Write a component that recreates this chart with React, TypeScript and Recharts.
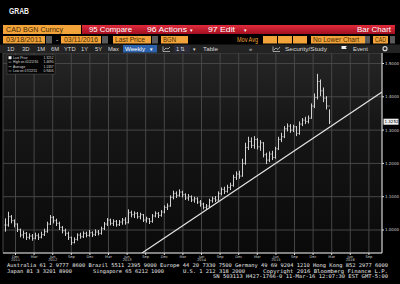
import { Bar, CartesianGrid, ComposedChart, ReferenceDot, ReferenceLine, XAxis, YAxis } from "recharts";

// roughly two-week bars (Sep 2011 .. Mar 2016)
const HIGH = [
  1.035, 1.055, 1.045, 1.032, 1.02, 1.004, 0.998, 0.994, 0.99, 0.988,
  0.992, 0.99, 0.995, 1.004, 1.025, 1.045, 1.042, 1.034, 1.025, 1.012,
  1.004, 0.995, 0.98, 0.978, 0.99, 0.992, 0.996, 0.995, 1.0, 0.996,
  1.002, 1.0, 1.01, 1.024, 1.036, 1.034, 1.032, 1.03, 1.03, 1.036,
  1.038, 1.062, 1.058, 1.056, 1.054, 1.052, 1.048, 1.04, 1.036, 1.048,
  1.056, 1.054, 1.06, 1.074, 1.08, 1.104, 1.118, 1.116, 1.122, 1.118,
  1.11, 1.108, 1.104, 1.1, 1.098, 1.09, 1.082, 1.078, 1.094, 1.1,
  1.102, 1.116, 1.128, 1.13, 1.136, 1.142, 1.166, 1.176, 1.178, 1.214,
  1.262, 1.28, 1.278, 1.282, 1.276, 1.27, 1.264, 1.232, 1.236, 1.238,
  1.25, 1.28, 1.292, 1.312, 1.32, 1.318, 1.316, 1.312, 1.326, 1.336,
  1.34, 1.344, 1.38, 1.41, 1.469, 1.452, 1.428, 1.402, 1.362,
];
const LOW = [
  0.995, 1.01, 1.02, 1.008, 0.994, 0.978, 0.975, 0.97, 0.972, 0.968,
  0.972, 0.97, 0.975, 0.982, 0.992, 1.015, 1.02, 1.012, 1.0, 0.99,
  0.982, 0.97, 0.955, 0.96, 0.968, 0.974, 0.976, 0.978, 0.98, 0.979,
  0.982, 0.984, 0.986, 1.0, 1.012, 1.014, 1.012, 1.01, 1.012, 1.016,
  1.016, 1.02, 1.038, 1.036, 1.034, 1.032, 1.024, 1.022, 1.018, 1.022,
  1.038, 1.036, 1.04, 1.05, 1.06, 1.07, 1.092, 1.096, 1.1, 1.098,
  1.09, 1.088, 1.084, 1.082, 1.078, 1.07, 1.062, 1.062, 1.068, 1.082,
  1.084, 1.088, 1.104, 1.108, 1.112, 1.12, 1.13, 1.15, 1.154, 1.16,
  1.196, 1.24, 1.246, 1.244, 1.242, 1.238, 1.218, 1.198, 1.204, 1.21,
  1.214, 1.24, 1.264, 1.276, 1.296, 1.292, 1.294, 1.282, 1.286, 1.312,
  1.318, 1.32, 1.334, 1.366, 1.392, 1.402, 1.384, 1.362, 1.318,
];
const CLOSE = [
  1.015, 1.04, 1.028, 1.018, 1.002, 0.985, 0.99, 0.978, 0.982, 0.975,
  0.983, 0.978, 0.986, 0.995, 1.018, 1.038, 1.028, 1.02, 1.008, 0.998,
  0.99, 0.978, 0.962, 0.972, 0.985, 0.98, 0.99, 0.984, 0.992, 0.986,
  0.994, 0.99, 1.004, 1.018, 1.03, 1.02, 1.026, 1.016, 1.024, 1.03,
  1.022, 1.052, 1.046, 1.05, 1.04, 1.046, 1.03, 1.034, 1.026, 1.042,
  1.05, 1.044, 1.054, 1.068, 1.072, 1.098, 1.11, 1.104, 1.114, 1.106,
  1.096, 1.1, 1.09, 1.094, 1.084, 1.078, 1.068, 1.072, 1.088, 1.094,
  1.09, 1.11, 1.122, 1.116, 1.128, 1.134, 1.158, 1.168, 1.162, 1.2,
  1.248, 1.266, 1.254, 1.272, 1.25, 1.262, 1.226, 1.21, 1.228, 1.218,
  1.244, 1.272, 1.28, 1.304, 1.312, 1.3, 1.31, 1.29, 1.318, 1.33,
  1.326, 1.336, 1.372, 1.398, 1.446, 1.418, 1.396, 1.372, 1.325,
];

const X_DOMAIN: [number, number] = [-0.67, 125.67];
const Y_DOMAIN: [number, number] = [0.931, 1.5315];
const Y_TICKS = [1.0, 1.1, 1.2, 1.3, 1.4, 1.5];
const X_TICKS = [
  3.5, 9.7, 15.9, 22.1, 28.3, 34.5, 40.7, 46.9, 53.1, 59.3,
  65.5, 71.7, 77.9, 84.1, 90.3, 96.5, 102.7, 108.9, 115.1, 121.3,
];
const MONTHS = [
  "Dec", "Mar", "Jun", "Sep", "Dec", "Mar", "Jun", "Sep", "Dec", "Mar",
  "Jun", "Sep", "Dec", "Mar", "Jun", "Sep", "Dec", "Mar", "Jun", "Sep",
];
const YEARS = [
  "2011", "", "2012", "", "", "", "2013", "", "", "",
  "2014", "", "", "", "2015", "", "", "", "2016", "",
];
const TREND_T = [45.67, 125.67];
const TREND_V = [0.931, 1.4144];
const LAST_PRICE = 1.3252;
const LEGEND_LABELS = ["Last Price", "High on 01/22/16", "Average", "Low on 07/22/11"];
const LEGEND_VALUES = ["1.3252", "1.4690", "1.1337", "0.9406"];

const DATA = CLOSE.map((c, i) => ({
  t: i,
  open: i > 0 ? CLOSE[i - 1] : c,
  high: HIGH[i],
  low: LOW[i],
  close: c,
}));

const BAR_COLOR = "#d2d2d2";
const TINY = "'DejaVu Sans', sans-serif";
const MONO = "'DejaVu Sans Mono', monospace";
const UI = "'Liberation Sans', Arial, sans-serif";
const ORANGE = "#f2a33a";
const ORANGE_TEXT = "#4a2c05";

function OhlcBar(props: any) {
  const { x, y, width, height, payload } = props;
  if (x == null || y == null || !payload) return null;
  const top = Math.min(y, y + height);
  const h = Math.abs(height);
  const range = payload.high - payload.low || 1;
  const at = (v: number) => top + ((payload.high - v) / range) * h;
  const cx = Math.round(x + width / 2) + 0.5;
  return (
    <g stroke={BAR_COLOR} strokeWidth={1}>
      <line x1={cx} x2={cx} y1={top} y2={top + h} />
      <line x1={cx - 1} x2={cx} y1={at(payload.open)} y2={at(payload.open)} />
      <line x1={cx} x2={cx + 1} y1={at(payload.close)} y2={at(payload.close)} />
    </g>
  );
}

function MonthTick(props: any) {
  const { x, y, payload, index } = props;
  const i = payload?.index ?? index;
  return (
    <g fontFamily={TINY} fontSize={3.6} fill="#d0d0d0">
      <text x={x} y={y + 1.5} textAnchor="middle">{MONTHS[i]}</text>
      {YEARS[i] ? (
        <text x={x} y={y + 5.2} textAnchor="middle">{YEARS[i]}</text>
      ) : null}
    </g>
  );
}

function PriceTag(props: any) {
  const { cx, cy } = props;
  if (cx == null || cy == null) return null;
  return (
    <g>
      <rect x={cx + 1.5} y={cy - 3} width={15} height={6} fill="#f0f0f0" />
      <text x={cx + 2.5} y={cy + 1.5} fontFamily={TINY} fontSize={4} fill="#000">
        {LEGEND_VALUES[0]}
      </text>
    </g>
  );
}

function PriceChart() {
  return (
    <ComposedChart
      width={400}
      height={212}
      data={DATA}
      margin={{ top: 0, right: 0, bottom: 0, left: 3 }}
    >
      <defs>
        <linearGradient id="plotBg" x1="0" y1="0" x2="0" y2="1">
          <stop offset="0%" stopColor="#262626" />
          <stop offset="35%" stopColor="#161616" />
          <stop offset="100%" stopColor="#0a0a0a" />
        </linearGradient>
      </defs>
      <CartesianGrid stroke="#474747" fill="url(#plotBg)" fillOpacity={1} />
      <XAxis
        dataKey="t"
        type="number"
        domain={X_DOMAIN}
        allowDataOverflow
        ticks={X_TICKS}
        interval={0}
        height={12}
        tickSize={2}
        tickMargin={1}
        stroke="#dcdcdc"
        tick={<MonthTick />}
      />
      <YAxis
        orientation="right"
        domain={Y_DOMAIN}
        allowDataOverflow
        ticks={Y_TICKS}
        width={18}
        tickSize={2}
        tickMargin={1}
        stroke="#dcdcdc"
        tick={{ fontSize: 4, fill: "#d0d0d0", fontFamily: TINY, textAnchor: "start" }}
        tickFormatter={(v: number) => v.toFixed(4)}
      />
      <Bar
        dataKey={(d: any) => [d.low, d.high]}
        shape={<OhlcBar />}
        isAnimationActive={false}
      />
      <ReferenceLine
        segment={[
          { x: TREND_T[0], y: TREND_V[0] },
          { x: TREND_T[1], y: TREND_V[1] },
        ]}
        stroke="#e4e4e4"
        strokeWidth={1.2}
        ifOverflow="hidden"
      />
      <ReferenceDot
        x={X_DOMAIN[1]}
        y={LAST_PRICE}
        ifOverflow="visible"
        shape={(p: any) => <PriceTag {...p} />}
      />
    </ComposedChart>
  );
}

function Header() {
  return (
    <g fontFamily={UI}>
      <defs>
        <linearGradient id="redBar" x1="0" y1="0" x2="0" y2="1">
          <stop offset="0%" stopColor="#e02a3c" />
          <stop offset="100%" stopColor="#a30f20" />
        </linearGradient>
      </defs>
      <text x={9} y={14} fontSize={9.5} fontWeight="bold" fill="#f0f0f0" textLength={20} lengthAdjust="spacingAndGlyphs">GRAB</text>

      {/* row 1 */}
      <rect x={3} y={25} width={78} height={9} fill={ORANGE} />
      <text x={6} y={32.3} fontSize={7.5} fill={ORANGE_TEXT} textLength={57} lengthAdjust="spacingAndGlyphs">CAD BGN Curncy</text>
      <rect x={82} y={25} width={313} height={9} fill="url(#redBar)" />
      <g fill="#ffffff" fontSize={7.5}>
        <text x={89} y={32.3} textLength={43} lengthAdjust="spacingAndGlyphs">95 Compare</text>
        <text x={147} y={32.3} textLength={40} lengthAdjust="spacingAndGlyphs">96 Actions</text>
        <text x={190} y={32.3} fontSize={5}>▾</text>
        <text x={208} y={32.3} textLength={27} lengthAdjust="spacingAndGlyphs">97 Edit</text>
        <text x={244} y={32.3} fontSize={5}>▾</text>
        <text x={357} y={32.3} textLength={34} lengthAdjust="spacingAndGlyphs">Bar Chart</text>
      </g>

      {/* row 2 */}
      <g fontSize={6.5} fill={ORANGE_TEXT}>
        <rect x={3} y={36} width={42} height={7.5} fill={ORANGE} />
        <text x={6} y={42} textLength={36} lengthAdjust="spacingAndGlyphs">03/18/2011</text>
        <rect x={46} y={36} width={6} height={7.5} fill="#5a5a5a" />
        <text x={56} y={42} fill="#dddddd">-</text>
        <rect x={61} y={36} width={40} height={7.5} fill={ORANGE} />
        <text x={64} y={42} textLength={34} lengthAdjust="spacingAndGlyphs">03/11/2016</text>
        <rect x={102} y={36} width={6} height={7.5} fill="#5a5a5a" />
        <rect x={113} y={36} width={38} height={7.5} fill={ORANGE} />
        <text x={115} y={42} textLength={30} lengthAdjust="spacingAndGlyphs">Last Price</text>
        <rect x={152} y={36} width={6} height={7.5} fill="#5a5a5a" />
        <rect x={161} y={36} width={27} height={7.5} fill={ORANGE} />
        <text x={163} y={42} textLength={13} lengthAdjust="spacingAndGlyphs">BGN</text>
        <text x={237} y={42} fill={ORANGE} textLength={21} lengthAdjust="spacingAndGlyphs">Mov Avg</text>
        <rect x={263} y={36} width={14} height={7.5} fill={ORANGE} />
        <rect x={278} y={36} width={14} height={7.5} fill={ORANGE} />
        <rect x={293} y={36} width={14} height={7.5} fill={ORANGE} />
        <rect x={311} y={36} width={54} height={7.5} fill={ORANGE} />
        <text x={313} y={42} textLength={46} lengthAdjust="spacingAndGlyphs">No Lower Chart</text>
        <rect x={365} y={36} width={5} height={7.5} fill="#5a5a5a" />
        <rect x={373} y={36} width={15} height={7.5} fill={ORANGE} />
        <text x={375} y={42} textLength={11} lengthAdjust="spacingAndGlyphs">CAD</text>
        <rect x={390} y={36} width={5} height={7.5} fill="#5a5a5a" />
      </g>

      {/* row 3 */}
      <rect x={0} y={44.5} width={400} height={8.5} fill="#232323" />
      <g fontSize={5.8} fill="#d8d8d8">
        <text x={7} y={51}>1D</text>
        <text x={22} y={51}>3D</text>
        <text x={37} y={51}>1M</text>
        <text x={51} y={51}>6M</text>
        <text x={64} y={51}>YTD</text>
        <text x={81} y={51}>1Y</text>
        <text x={95} y={51}>5Y</text>
        <text x={108} y={51}>Max</text>
        <rect x={123} y={45} width={34} height={7.5} fill="#2d62ad" />
        <text x={125} y={51} fill="#ffffff" textLength={20} lengthAdjust="spacingAndGlyphs">Weekly</text>
        <text x={149} y={51} fill="#ffffff" fontSize={4.5}>▼</text>
        <path d="M163 51.5 L163 46.5 M163 51.5 L170 51.5 M164 50 L166 48 L168 49 L170 47" stroke="#d8d8d8" strokeWidth={0.7} fill="none" />
        <rect x={174} y={45} width={16} height={7.5} fill="#2b2b3a" />
        <text x={176} y={51}>1</text>
        <text x={180} y={51}>⇅</text>
        <text x={192} y={51} fontSize={4.5}>▼</text>
        <text x={203} y={51} textLength={15} lengthAdjust="spacingAndGlyphs">Table</text>
        <text x={249} y={51}>«</text>
        <path d="M273 51.5 L273 46.5 M273 51.5 L280 51.5 M274 50 L276 48 L278 49.5 L280 47" stroke="#d8d8d8" strokeWidth={0.7} fill="none" />
        <text x={285} y={51} textLength={42} lengthAdjust="spacingAndGlyphs">Security/Study</text>
        <path d="M341.5 52 L341.5 46 L347 46 L345.5 47.5 L347 49 L341.5 49" fill="#eeeeee" />
        <text x={353} y={51} textLength={15} lengthAdjust="spacingAndGlyphs">Event</text>
        <circle cx={385} cy={48.7} r={2} fill="none" stroke="#d8d8d8" strokeWidth={1.2} />
      </g>
    </g>
  );
}

function Legend() {
  return (
    <g fontFamily={UI} fontSize={3.3} fill="#dcdcdc">
      <rect x={7} y={55} width={48} height={19} fill="#050505" stroke="#555555" strokeWidth={0.5} />
      {LEGEND_LABELS.map((label, i) => {
        const y = 59 + i * 4.4;
        return (
          <g key={label}>
            {i === 0 ? (
              <rect x={8.5} y={y - 2.8} width={3} height={3} fill="#f4f4f4" />
            ) : (
              <line x1={8.5} x2={11.5} y1={y - 1.2} y2={y - 1.2} stroke="#bbbbbb" strokeWidth={0.6} />
            )}
            <text x={13} y={y}>{label}</text>
            <text x={53.5} y={y} textAnchor="end">{LEGEND_VALUES[i]}</text>
          </g>
        );
      })}
    </g>
  );
}

function Footer() {
  return (
    <g fontFamily={MONO} fontSize={5.2} fill="#e8e8e8">
      <text x={7} y={266.8} textLength={381} lengthAdjust="spacingAndGlyphs">
        Australia 61 2 9777 8600 Brazil 5511 2395 9000 Europe 44 20 7330 7500 Germany 49 69 9204 1210 Hong Kong 852 2977 6000
      </text>
      <text x={7} y={272.6} textLength={65} lengthAdjust="spacingAndGlyphs">Japan 81 3 3201 8900</text>
      <text x={93} y={272.6} textLength={71} lengthAdjust="spacingAndGlyphs">Singapore 65 6212 1000</text>
      <text x={183} y={272.6} textLength={62} lengthAdjust="spacingAndGlyphs">U.S. 1 212 318 2000</text>
      <text x={263} y={272.6} textLength={125} lengthAdjust="spacingAndGlyphs">Copyright 2016 Bloomberg Finance L.P.</text>
      <text x={213} y={278.4} textLength={175} lengthAdjust="spacingAndGlyphs">SN 503113 H427-1766-0 11-Mar-16 12:07:30 EST  GMT-5:00</text>
    </g>
  );
}

export default function App() {
  return (
    <div
      style={{
        position: "absolute",
        left: 0,
        top: 0,
        width: 400,
        height: 284,
        background: "#000",
        overflow: "hidden",
      }}
    >
      <div style={{ position: "absolute", left: 0, top: 53 }}>
        <PriceChart />
      </div>
      <svg
        width={400}
        height={284}
        style={{ position: "absolute", left: 0, top: 0, pointerEvents: "none" }}
      >
        <Header />
        <Legend />
        <Footer />
      </svg>
    </div>
  );
}
